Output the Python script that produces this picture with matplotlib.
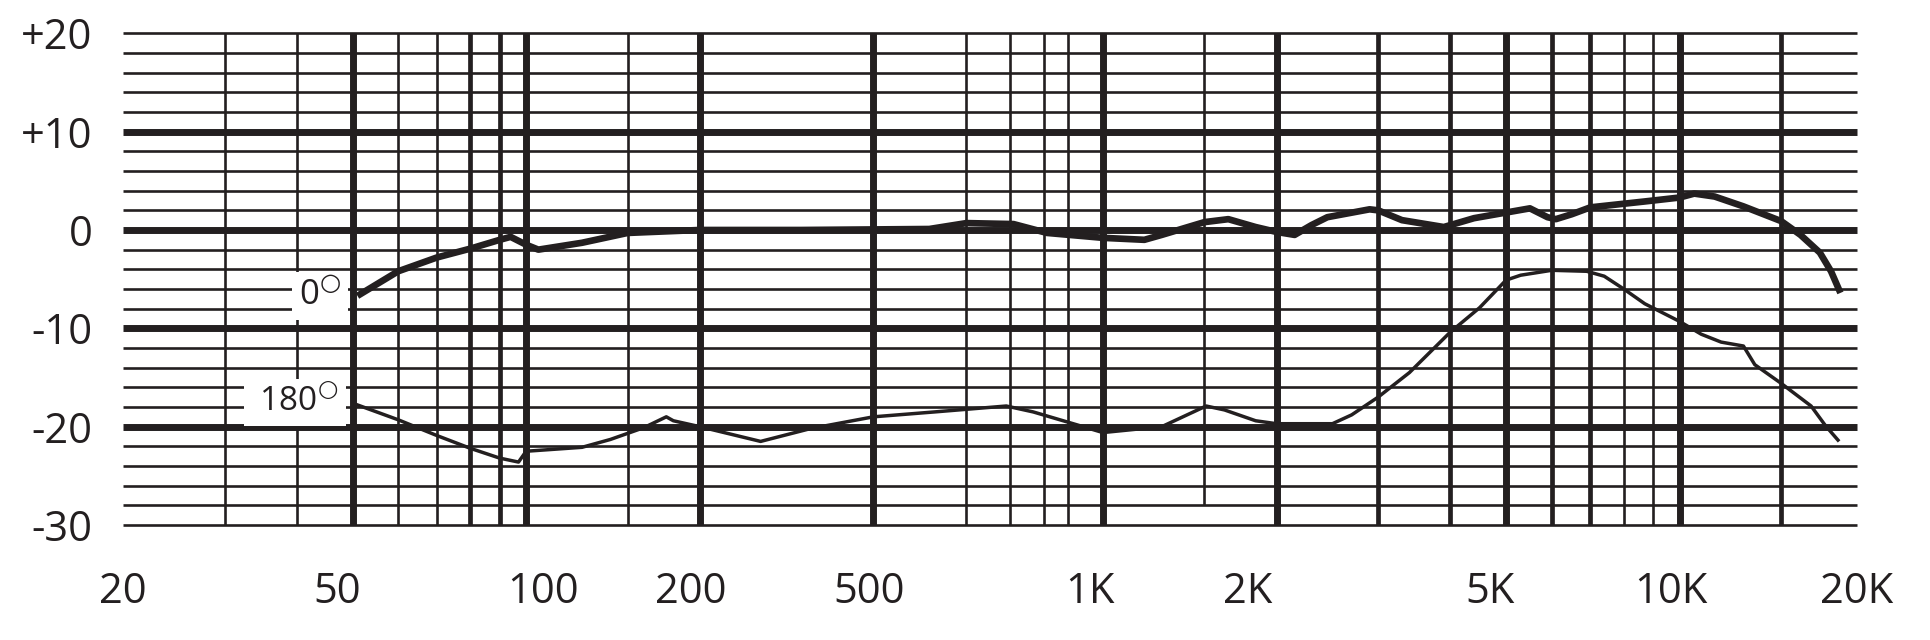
import matplotlib.pyplot as plt
from matplotlib.ticker import NullLocator

plt.rcParams['font.family'] = ['Open Sans', 'DejaVu Sans']
INK = '#231f20'

# frequency response, 0 degree (on axis)
freq_0 = [51, 60, 70, 80, 90, 94, 100, 105, 125, 150, 200, 300, 500, 580, 700,
          800, 1000, 1180, 1265, 1500, 1650, 1840, 2000, 2150, 2300, 2450, 2900,
          3000, 3300, 3900, 4400, 5500, 5900, 6100, 6500, 7000, 8700, 10000,
          10600, 11500, 12900, 15000, 16200, 17500, 18300, 19000]
db_0 = [-6.7, -4.2, -2.8, -1.9, -1.0, -0.7, -1.5, -2.0, -1.3, -0.3, 0.0, 0.0, 0.1,
        0.7, 0.6, -0.3, -0.8, -1.0, -0.5, 0.8, 1.1, 0.3, -0.2, -0.5, 0.5, 1.3, 2.1,
        2.0, 1.0, 0.3, 1.2, 2.2, 1.3, 1.1, 1.6, 2.3, 2.9, 3.3,
        3.7, 3.4, 2.4, 0.9, -0.5, -2.3, -4.2, -6.4]

# frequency response, 180 degree (rear)
freq_180 = [50.5, 60, 70, 80, 90, 97, 100, 125, 140, 160, 175, 180, 200, 255, 311,
            400, 511, 680, 757, 900, 1000, 1265, 1510, 1625, 1840, 2000, 2500,
            2700, 3000, 3400, 4000, 4500, 5000, 5300, 6000, 6900, 7400, 8000,
            8700, 10000, 10900, 11800, 12900, 13500, 15000, 16900, 17900, 18900]
db_180 = [-17.7, -19.3, -20.9, -22.2, -23.2, -23.6, -22.5, -22.1, -21.3, -20.1,
          -19.0, -19.4, -20.0, -21.5, -20.2, -19.0, -18.5, -17.9, -18.5, -19.8,
          -20.6, -20.0, -17.9, -18.3, -19.4, -19.7, -19.7, -18.8, -17.0, -14.5,
          -10.4, -7.9, -5.1, -4.6, -4.1, -4.2, -4.7, -6.0, -7.5, -9.3, -10.6,
          -11.4, -11.8, -13.7, -15.6, -17.9, -19.9, -21.5]

# chart grid as printed (the line labelled 500 sits where 400 Hz would be)
grid_db = list(range(-30, 21, 2))
grid_db_major = [-20, -10, 0, 10]
grid_f_thin = [30, 40, 60, 70, 150, 580, 690, 790, 870, 8000, 9000]
grid_f_mid = [80, 90, 3000, 4000, 6000, 7000, 15000]
grid_f_thick = [50, 100, 200, 400, 1000, 2000, 5000, 10000]
grid_f_short = [1500]

xtick_pos = [20, 47, 107, 193, 394, 950, 1780, 4700, 9650, 20300]
xtick_labels = ['20', '50', '100', '200', '500', '1K', '2K', '5K', '10K', '20K']
ytick_pos = [20, 10, 0, -10, -20, -30]
ytick_labels = ['+20', '+10', '0', '-10', '-20', '-30']

fig = plt.figure(figsize=(19.3, 6.4), dpi=100)
ax = fig.add_axes([123 / 1930, 1 - 525 / 640, 1734 / 1930, 491.7 / 640])
ax.set_xscale('log')
ax.set_xlim(20, 20000)
ax.set_ylim(-30, 20)
for sp in ax.spines.values():
    sp.set_visible(False)
ax.xaxis.set_minor_locator(NullLocator())

for d in grid_db:
    ax.axhline(d, color=INK, lw=5.0 if d in grid_db_major else 1.9,
               clip_on=False, zorder=1, solid_capstyle='butt')
for f in grid_f_thin:
    ax.axvline(f, color=INK, lw=1.9, clip_on=False, zorder=1, solid_capstyle='butt')
for f in grid_f_mid:
    ax.axvline(f, color=INK, lw=3.4, clip_on=False, zorder=1, solid_capstyle='butt')
for f in grid_f_thick:
    ax.axvline(f, color=INK, lw=5.0, clip_on=False, zorder=1, solid_capstyle='butt')
for f in grid_f_short:
    ax.axvline(f, ymin=0.04, color=INK, lw=1.9, clip_on=False, zorder=1,
               solid_capstyle='butt')

ax.plot(freq_0, db_0, color=INK, lw=4.8, zorder=3, solid_joinstyle='round',
        solid_capstyle='butt')
ax.plot(freq_180, db_180, color=INK, lw=2.5, zorder=3, solid_joinstyle='round',
        solid_capstyle='butt')

box = dict(facecolor='white', edgecolor='none', pad=5)
ax.text(47.7, -7.6, r'0$^{\bigcirc}$', fontsize=25, color=INK, ha='right',
        va='baseline', bbox=box, zorder=4)
ax.text(47.3, -18.4, r' 180$^{\bigcirc}$', fontsize=24, color=INK, ha='right',
        va='baseline', bbox=box, zorder=4)

ax.set_xticks(xtick_pos)
ax.set_xticklabels(xtick_labels)
ax.set_yticks(ytick_pos)
ax.set_yticklabels(ytick_labels)
ax.tick_params(length=0, labelsize=30, colors=INK)
ax.tick_params(axis='x', pad=33)
ax.tick_params(axis='y', pad=22)

fig.savefig('out.png', dpi=100, facecolor='white')
